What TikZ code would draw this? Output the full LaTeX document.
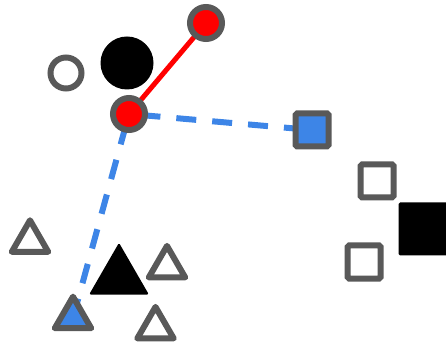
\documentclass[tikz,border=0pt]{standalone}
\usetikzlibrary{shapes.geometric,backgrounds}
\definecolor{edgegray}{RGB}{89,89,89}
\definecolor{mblue}{RGB}{61,133,231}
\begin{document}
\begin{tikzpicture}[x=1pt,y=1pt,
  every node/.style={inner sep=0pt, outer sep=0pt},
  opencirc/.style={circle, draw=edgegray, line width=6pt, fill=white, minimum size=31pt},
  redcirc/.style={circle, draw=edgegray, line width=6pt, fill=red, minimum size=32pt},
  blackcirc/.style={circle, fill=black, minimum size=53pt},
  opensq/.style={rectangle, draw=edgegray, line width=6pt, fill=white, minimum size=33pt, rounded corners=1.5pt},
  bluesq/.style={opensq, fill=mblue},
  blacksq/.style={rectangle, fill=black, minimum size=53pt, rounded corners=1.5pt},
  opentri/.style={regular polygon, regular polygon sides=3, draw=edgegray, line width=6pt, fill=white, minimum size=42pt, line join=round},
  bluetri/.style={opentri, fill=mblue},
  blacktri/.style={regular polygon, regular polygon sides=3, fill=black, minimum size=69pt, rounded corners=1.5pt},
  redline/.style={red, line width=5pt},
  blueline/.style={mblue, line width=6pt, dash pattern=on 20pt off 16pt, dash phase=24.5pt}
]
\useasboundingbox (0,0) rectangle (446,345);
\clip (0,0) rectangle (446,345);
% circles
\node[opencirc] (oc) at (66,272) {};
\node[blackcirc] (bc) at (127,282) {};
\node[redcirc] (r1) at (206,322) {};
\node[redcirc] (r2) at (129,231) {};
% squares
\node[bluesq] (bsq) at (312,215) {};
\node[opensq] (sq1) at (377,164) {};
\node[blacksq] (bksq) at (425,116) {};
\node[opensq] (sq2) at (364,83) {};
% triangles
\node[opentri] (t1) at (30,103.7) {};
\node[blacktri] (bt) at (119,67.7) {};
\node[opentri] (t2) at (167,78.1) {};
\node[bluetri] (blt) at (73,27.3) {};
\node[opentri] (t3) at (155.5,17.1) {};
% connectors
\begin{scope}[on background layer]
\draw[redline] (r1.center) -- (r2.center);
\draw[blueline] (r2.center) -- (bsq.center);
\draw[blueline] (r2.center) -- (blt.center);
\end{scope}
\end{tikzpicture}
\end{document}
